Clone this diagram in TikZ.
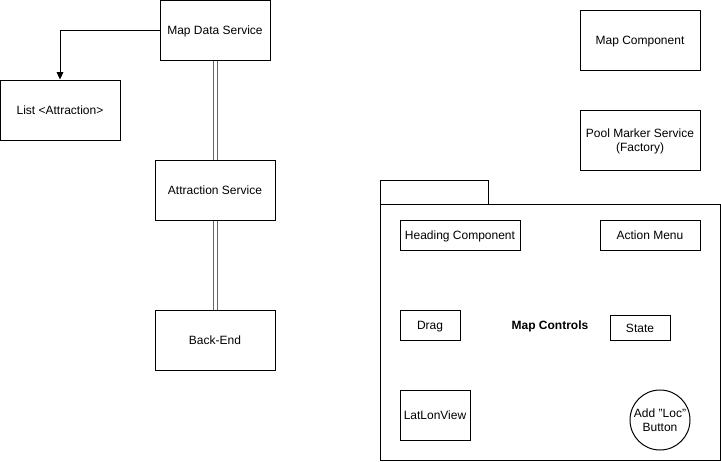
\documentclass[tikz,border=0pt]{standalone}
\usepackage{fontspec}
\setmainfont{Liberation Sans}
\usetikzlibrary{arrows.meta}
\begin{document}
\begin{tikzpicture}[x=0.75pt,y=-0.75pt,line width=0.75pt,
  font=\fontsize{9}{10.8}\selectfont,
  box/.style={draw=black,fill=white,inner sep=0pt,align=center},
  one/.style={text height=8pt,text depth=1pt},
  link/.style={draw=black!60,line width=0.75pt},
  arr/.style={draw=black,-{Triangle[length=5.5pt,width=5pt]}}]
\useasboundingbox (0,0) rectangle (721,461);
% package
\draw[fill=white] (380,180) rectangle (488,204);
\draw[fill=white] (380,204) rectangle (720,460);
% left boxes
\node[box,one,minimum width=110*0.75pt,minimum height=60*0.75pt] (mds) at (215,30) {Map Data Service};
\node[box,one,minimum width=120*0.75pt,minimum height=60*0.75pt] (list) at (60,110) {List <Attraction>};
\node[box,one,minimum width=120*0.75pt,minimum height=60*0.75pt] (as) at (215,190) {Attraction Service};
\node[box,one,minimum width=120*0.75pt,minimum height=60*0.75pt] (be) at (215,340) {Back-End};
% right boxes
\node[box,one,minimum width=120*0.75pt,minimum height=60*0.75pt] (mc) at (640,40) {Map Component};
\node[box,text depth=0pt,minimum width=120*0.75pt,minimum height=60*0.75pt] (pms) at (640,140) {Pool Marker Service\\(Factory)};
\node[box,one,minimum width=120*0.75pt,minimum height=30*0.75pt] (hc) at (460,235) {Heading Component};
\node[box,one,minimum width=100*0.75pt,minimum height=30*0.75pt] (am) at (650,235) {Action Menu};
\node[box,one,minimum width=60*0.75pt,minimum height=30*0.75pt] (drag) at (430,325) {Drag};
\node[box,one,minimum width=60*0.75pt,minimum height=25*0.75pt] (state) at (640,327.5) {State};
\node[one,font=\fontsize{9}{10.8}\selectfont\bfseries,inner sep=0pt] (ctl) at (550,325) {Map Controls};
\node[box,one,minimum width=70*0.75pt,minimum height=50*0.75pt] (llv) at (435,415) {LatLonView};
\node[box,circle,text depth=0pt,minimum size=60*0.75pt] (add) at (660,420) {Add "Loc"\\Button};
% connectors
\coordinate (bend) at (60,30);
\draw[arr] (mds.west) -- (bend) -- (list.north);
\draw[link] ([xshift=-1.5pt]mds.south) -- ([xshift=-1.5pt]as.north);
\draw[link] ([xshift=1.5pt]mds.south) -- ([xshift=1.5pt]as.north);
\draw[link] ([xshift=-1.5pt]as.south) -- ([xshift=-1.5pt]be.north);
\draw[link] ([xshift=1.5pt]as.south) -- ([xshift=1.5pt]be.north);
\end{tikzpicture}
\end{document}
